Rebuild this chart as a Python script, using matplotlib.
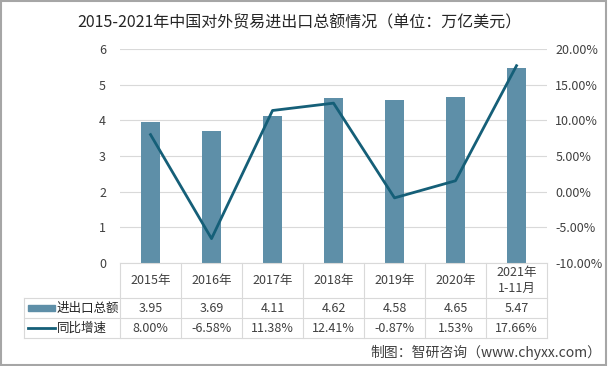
import numpy as np
import matplotlib.pyplot as plt
from matplotlib.patches import Rectangle
from matplotlib.lines import Line2D
import matplotlib.transforms as mtransforms

plt.rcParams['font.family'] = ['Noto Sans CJK SC', 'DejaVu Sans']

years = ['2015年', '2016年', '2017年', '2018年', '2019年', '2020年', '2021年\n1-11月']
total = [3.95, 3.69, 4.11, 4.62, 4.58, 4.65, 5.47]
growth = [8.00, -6.58, 11.38, 12.41, -0.87, 1.53, 17.66]
row_names = ['进出口总额', '同比增速']

bar_color = '#5E8FA8'
line_color = '#155F78'
grid_color = '#D9D9D9'
text_color = '#404040'

fig = plt.figure(figsize=(6.08, 3.66), dpi=100)
ax = fig.add_axes([0.1974, 0.2814, 0.7023, 0.5847])
ax2 = ax.twinx()

x = np.arange(len(years))
ax.bar(x, total, width=0.31, color=bar_color, zorder=2)
ax2.plot(x, growth, color=line_color, lw=2.0, zorder=3)

ax.set_xlim(-0.5, len(years) - 0.5)
ax.set_ylim(0, 6)
ax.set_yticks(range(0, 7))
ax2.set_ylim(-10, 20)
ax2.set_yticks(range(-10, 21, 5))
ax2.set_yticklabels(['%.2f%%' % v for v in range(-10, 21, 5)])

ax.yaxis.grid(True, color=grid_color, lw=0.8)
ax.set_axisbelow(True)
for a in (ax, ax2):
    for s in a.spines.values():
        s.set_visible(False)
    a.tick_params(axis='y', length=0, labelsize=9, colors=text_color)
ax.tick_params(axis='y', pad=10)
ax2.tick_params(axis='y', pad=6)
ax.set_xticks([])
ax.spines['bottom'].set_visible(True)
ax.spines['bottom'].set_color(grid_color)
ax.set_zorder(ax2.get_zorder() - 1)
ax.patch.set_visible(False)

# data table under the plot
trans = mtransforms.blended_transform_factory(ax.transData, ax.transAxes)
r1, r2, r3 = -0.1636, -0.257, -0.3505
left = -0.2248
kw = dict(color=grid_color, lw=0.8, clip_on=False)
for yy in (r1, r2, r3):
    ax.add_line(Line2D([left, 1], [yy, yy], transform=ax.transAxes, **kw))
ax.add_line(Line2D([left, left], [r1, r3], transform=ax.transAxes, **kw))
for b in np.arange(len(years) + 1) - 0.5:
    ax.add_line(Line2D([b, b], [0, r3], transform=trans, **kw))

for i in x:
    ax.text(i, r1 / 2, years[i], transform=trans, ha='center', va='center',
            fontsize=9, color=text_color, linespacing=1.3)
    ax.text(i, (r1 + r2) / 2, '%.2f' % total[i], transform=trans, ha='center',
            va='center', fontsize=9, color=text_color)
    ax.text(i, (r2 + r3) / 2, '%.2f%%' % growth[i], transform=trans, ha='center',
            va='center', fontsize=9, color=text_color)

# legend keys in the table
ax.add_patch(Rectangle((left + 0.01, (r1 + r2) / 2 - 0.014), 0.062, 0.028,
                       transform=ax.transAxes, color=bar_color, clip_on=False))
ax.add_line(Line2D([left + 0.01, left + 0.072], [(r2 + r3) / 2] * 2,
                   transform=ax.transAxes, color=line_color, lw=2.0, clip_on=False))
ax.text(left + 0.077, (r1 + r2) / 2, row_names[0], transform=ax.transAxes,
        ha='left', va='center', fontsize=9, color='#262626')
ax.text(left + 0.077, (r2 + r3) / 2, row_names[1], transform=ax.transAxes,
        ha='left', va='center', fontsize=9, color='#262626')

fig.text(0.492, 0.937, '2015-2021年中国对外贸易进出口总额情况（单位：万亿美元）',
         ha='center', va='center', fontsize=11.5, color='#262626')
fig.text(0.99, 0.038, '制图：智研咨询（www.chyxx.com）', ha='right', va='center',
         fontsize=10, color='#404040')

fig.patches.append(Rectangle((0.002, 0.003), 0.995, 0.993, transform=fig.transFigure,
                             fill=False, edgecolor='#A6A6A6', lw=1.5))

fig.savefig('out.png', dpi=100)
